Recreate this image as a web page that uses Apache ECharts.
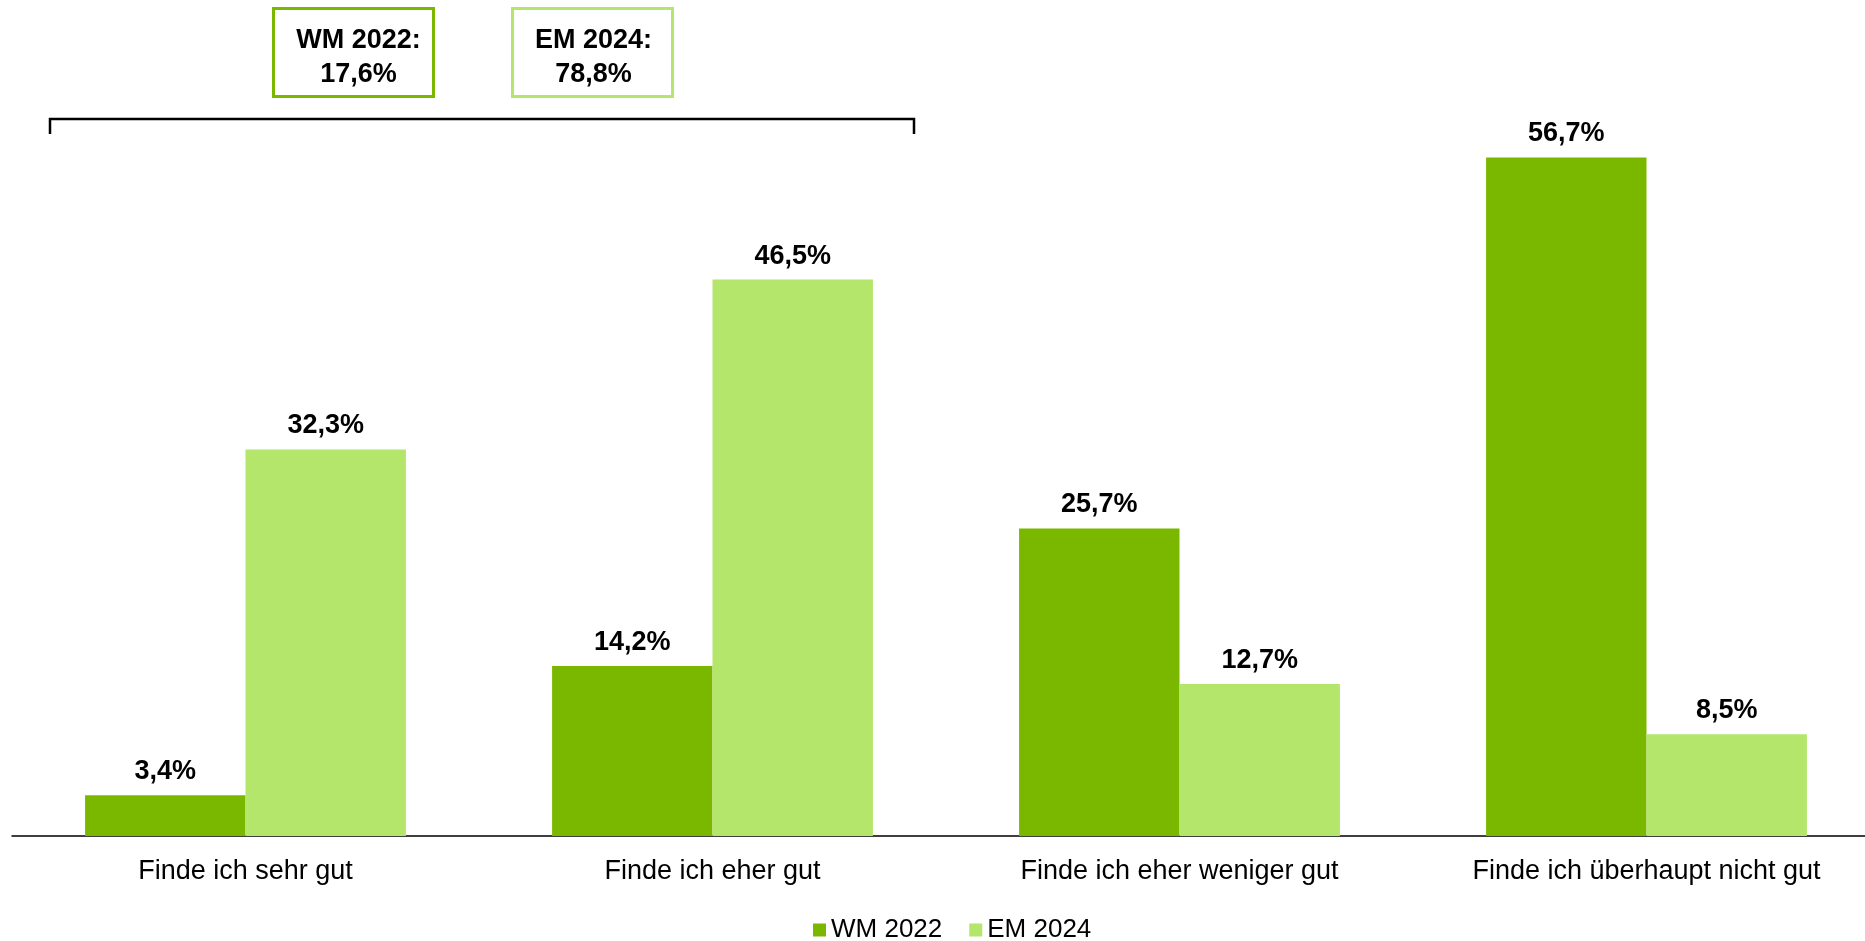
<!DOCTYPE html>
<html>
<head>
<meta charset="utf-8">
<title>WM 2022 / EM 2024</title>
<script src="https://cdn.jsdelivr.net/npm/echarts@6/dist/echarts.min.js"></script>
<style>
    html, body { margin: 0; padding: 0; background: #fff; }
    #chart { width: 1865px; height: 941px; }
</style>
</head>
<body>
<div id="chart"></div>
<script>
const categories = ['Finde ich sehr gut', 'Finde ich eher gut', 'Finde ich eher weniger gut', 'Finde ich überhaupt nicht gut']
const series_names = ['WM 2022', 'EM 2024']
const wm_2022 = [3.4, 14.2, 25.7, 56.7]
const em_2024 = [32.3, 46.5, 12.7, 8.5]
// Summen "sehr gut" + "eher gut" fuer die Kaesten oben
const positive_totals = [17.6, 78.8]

const colors = ['#7ab800', '#b3e66b']
const font = "'Liberation Sans', Arial, sans-serif"

let fmt_pct = (v) => v.toFixed(1).replace('.', ',') + '%'

let make_bar = (name, data, color) => {
    return {
        name: name,
        type: 'bar',
        data: data,
        barGap: '0%',
        barCategoryGap: '31.3%',
        itemStyle: { color: color },
        label: {
            show: true,
            position: 'top',
            distance: 10,
            color: '#000',
            fontFamily: font,
            fontWeight: 'bold',
            fontSize: 27,
            formatter: (p) => fmt_pct(p.value)
        }
    }
}

// Kasten mit Summe (oben links)
let total_box = (x, text_x, color, label, total) => {
    return {
        type: 'group',
        left: x,
        top: 7,
        children: [
            {
                type: 'rect',
                shape: { x: 0, y: 0, width: 160, height: 88 },
                style: { fill: '#fff', stroke: color, lineWidth: 3 }
            },
            {
                type: 'text',
                x: text_x,
                y: 49,
                style: {
                    text: label + ':\n' + fmt_pct(total),
                    align: 'center',
                    verticalAlign: 'middle',
                    fontFamily: font,
                    fontWeight: 'bold',
                    fontSize: 27,
                    lineHeight: 34,
                    fill: '#000'
                }
            }
        ]
    }
}

let chart = echarts.init(document.getElementById('chart'))
let option = {
    backgroundColor: '#fff',
    animation: false,
    grid: {
        left: 12,
        top: 118,
        width: 1868,
        height: 718,
        outerBoundsMode: 'none'
    },
    legend: {
        data: series_names,
        left: 808,
        top: 912,
        icon: 'rect',
        itemWidth: 13,
        itemHeight: 13,
        itemGap: 27,
        textStyle: {
            color: '#000',
            fontFamily: font,
            fontSize: 26
        }
    },
    xAxis: {
        type: 'category',
        data: categories,
        axisLine: { show: true, lineStyle: { color: '#000', width: 1.5 } },
        axisTick: { show: false },
        axisLabel: {
            margin: 22,
            color: '#000',
            fontFamily: font,
            fontSize: 27
        }
    },
    yAxis: {
        type: 'value',
        min: 0,
        max: 60,
        show: false,
        splitLine: { show: false }
    },
    series: [
        make_bar(series_names[0], wm_2022, colors[0]),
        make_bar(series_names[1], em_2024, colors[1])
    ],
    graphic: [
        total_box(272, 85, colors[0], series_names[0], positive_totals[0]),
        total_box(511, 81, colors[1], series_names[1], positive_totals[1]),
        {
            // Klammer ueber den ersten beiden Kategorien
            type: 'polyline',
            shape: { points: [[50, 134], [50, 119], [914, 119], [914, 134]] },
            style: { stroke: '#000', lineWidth: 2.5, fill: null }
        }
    ]
}
chart.setOption(option)
</script>
</body>
</html>
